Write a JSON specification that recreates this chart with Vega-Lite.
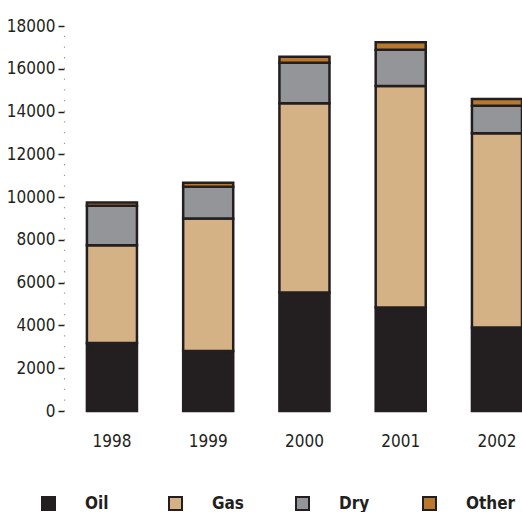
{
  "$schema": "https://vega.github.io/schema/vega-lite/v6.json",
  "autosize": "none",
  "width": 458,
  "height": 385,
  "padding": {"left": 64, "top": 26, "right": 0, "bottom": 101},
  "background": "#ffffff",
  "config": {
    "view": {"stroke": null},
    "font": "DejaVu Sans Condensed"
  },
  "data": {
    "values": [
      {"year": "1998", "type": "Oil", "value": 3180},
      {"year": "1998", "type": "Gas", "value": 4570},
      {"year": "1998", "type": "Dry", "value": 1850},
      {"year": "1998", "type": "Other", "value": 150},
      {"year": "1999", "type": "Oil", "value": 2810},
      {"year": "1999", "type": "Gas", "value": 6190},
      {"year": "1999", "type": "Dry", "value": 1480},
      {"year": "1999", "type": "Other", "value": 190},
      {"year": "2000", "type": "Oil", "value": 5540},
      {"year": "2000", "type": "Gas", "value": 8845},
      {"year": "2000", "type": "Dry", "value": 1900},
      {"year": "2000", "type": "Other", "value": 280},
      {"year": "2001", "type": "Oil", "value": 4840},
      {"year": "2001", "type": "Gas", "value": 10355},
      {"year": "2001", "type": "Dry", "value": 1700},
      {"year": "2001", "type": "Other", "value": 345},
      {"year": "2002", "type": "Oil", "value": 3900},
      {"year": "2002", "type": "Gas", "value": 9080},
      {"year": "2002", "type": "Dry", "value": 1290},
      {"year": "2002", "type": "Other", "value": 315}
    ]
  },
  "transform": [
    {"calculate": "indexof(['Oil', 'Gas', 'Dry', 'Other'], datum.type)", "as": "stackOrder"}
  ],
  "mark": {"type": "bar", "stroke": "#231f20", "strokeWidth": 2.5},
  "encoding": {
    "x": {
      "field": "year",
      "type": "ordinal",
      "scale": {"paddingInner": 0.48, "paddingOuter": 0.119, "align": 1},
      "axis": {
        "title": null,
        "domain": false,
        "ticks": false,
        "labelAngle": 0,
        "labelFont": "DejaVu Sans Condensed",
        "labelFontSize": 17,
        "labelColor": "#231f20",
        "labelPadding": 22
      }
    },
    "y": {
      "field": "value",
      "type": "quantitative",
      "stack": "zero",
      "scale": {"domain": [0, 18000], "nice": false},
      "axis": {
        "title": null,
        "values": [0, 2000, 4000, 6000, 8000, 10000, 12000, 14000, 16000, 18000],
        "format": "d",
        "grid": false,
        "domainColor": "#9a9a9a",
        "domainWidth": 1.2,
        "domainDash": [1.3, 9.4],
        "tickColor": "#231f20",
        "tickSize": 6,
        "tickWidth": 1.5,
        "labelFont": "DejaVu Sans Condensed",
        "labelFontSize": 17,
        "labelColor": "#231f20",
        "labelPadding": 3
      }
    },
    "order": {"field": "stackOrder", "type": "quantitative", "sort": "ascending"},
    "color": {
      "field": "type",
      "type": "nominal",
      "sort": ["Oil", "Gas", "Dry", "Other"],
      "scale": {
        "domain": ["Oil", "Gas", "Dry", "Other"],
        "range": ["#231f20", "#d4b286", "#939598", "#b8792e"]
      },
      "legend": {
        "title": null,
        "orient": "none",
        "legendX": -24,
        "legendY": 469,
        "direction": "horizontal",
        "columns": 4,
        "gridAlign": "all",
        "columnPadding": 30,
        "symbolType": "square",
        "symbolSize": 169,
        "symbolStrokeColor": "#231f20",
        "symbolStrokeWidth": 2,
        "labelOffset": 28,
        "labelFont": "DejaVu Sans Condensed",
        "labelFontWeight": "bold",
        "labelFontSize": 17,
        "labelColor": "#231f20"
      }
    }
  }
}
